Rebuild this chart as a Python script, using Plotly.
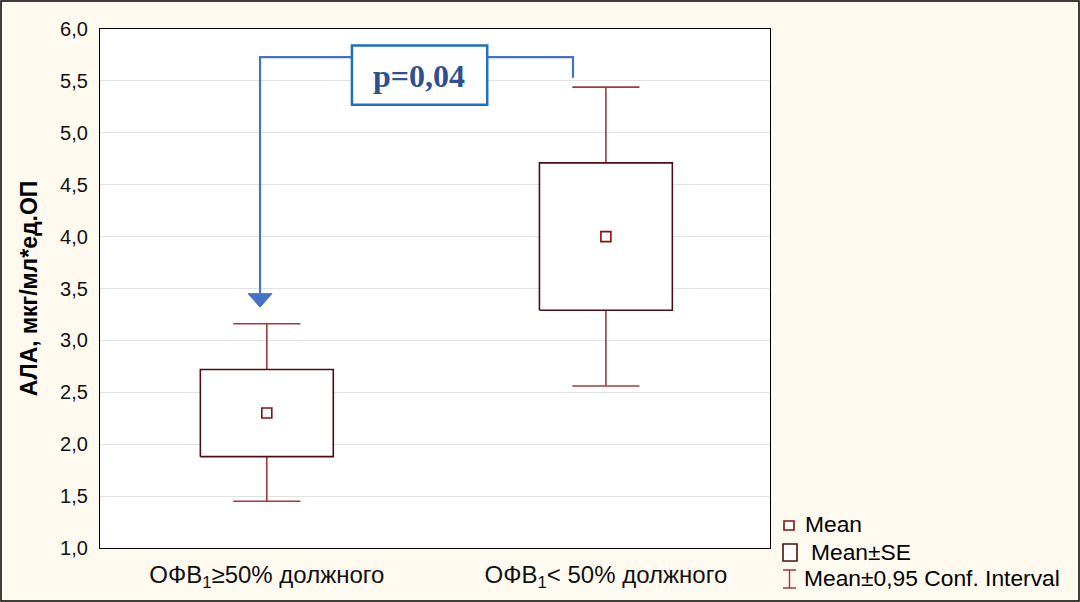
import plotly.graph_objects as go

# Group statistics: АЛА by lung function group
groups = ["ОФВ<sub>1</sub>≥50% должного", "ОФВ<sub>1</sub>< 50% должного"]
means = [2.30, 4.00]
se_low = [1.88, 3.29]
se_high = [2.72, 4.71]
ci_low = [1.45, 2.56]
ci_high = [3.16, 5.44]
y_ticks = [1.0, 1.5, 2.0, 2.5, 3.0, 3.5, 4.0, 4.5, 5.0, 5.5, 6.0]
p_text = "p=0,04"

BOX_COL = "#4d0f12"
WHISK_COL = "#a33a3a"
MEAN_COL = "#8b0f0f"
BLUE = "#4472C4"
SANS = "Liberation Sans, Arial"

box_hw = 0.196
cap_hw = 0.099

fig = go.Figure()

for i, g in enumerate(groups):
    x = i
    # whiskers (95% CI)
    fig.add_trace(go.Scatter(
        x=[x - cap_hw, x + cap_hw, None, x, x, None, x, x, None, x - cap_hw, x + cap_hw],
        y=[ci_high[i], ci_high[i], None, ci_high[i], se_high[i], None, se_low[i], ci_low[i], None, ci_low[i], ci_low[i]],
        mode="lines", line=dict(color=WHISK_COL, width=1.6),
        showlegend=False, hoverinfo="skip"))
    # mean ± SE box
    fig.add_trace(go.Scatter(
        x=[x - box_hw, x + box_hw, x + box_hw, x - box_hw, x - box_hw],
        y=[se_low[i], se_low[i], se_high[i], se_high[i], se_low[i]],
        mode="lines", fill="toself", fillcolor="white",
        line=dict(color=BOX_COL, width=1.6),
        showlegend=False, hoverinfo="skip"))

# mean markers
fig.add_trace(go.Scatter(
    x=list(range(len(groups))), y=means, mode="markers",
    marker=dict(symbol="square", size=10, color="white",
                line=dict(color=MEAN_COL, width=1.6)),
    showlegend=False, hoverinfo="skip"))

shapes = []
annotations = []

# significance bracket with arrow
bx_l, bx_r = -0.020, 0.903
y_top, y_right_end, y_arrow_base, y_arrow_tip = 5.73, 5.53, 3.45, 3.32
shapes.append(dict(type="path", xref="x", yref="y",
                   path=f"M {bx_l} {y_arrow_base} L {bx_l} {y_top} L {bx_r} {y_top} L {bx_r} {y_right_end}",
                   line=dict(color=BLUE, width=2.2)))
aw = 0.035
shapes.append(dict(type="path", xref="x", yref="y",
                   path=f"M {bx_l - aw} {y_arrow_base} L {bx_l + aw} {y_arrow_base} L {bx_l} {y_arrow_tip} Z",
                   fillcolor=BLUE, line=dict(color=BLUE, width=1)))
# p-value box
shapes.append(dict(type="rect", xref="x", yref="y",
                   x0=0.251, x1=0.650, y0=5.27, y1=5.84,
                   fillcolor="white", line=dict(color="#1a72c0", width=2.5)))
annotations.append(dict(x=0.450, y=5.55, xref="x", yref="y", text=f"<b>{p_text}</b>",
                        showarrow=False, font=dict(family="Liberation Serif", size=32, color="#2f4f8f")))

# outer frame around the whole figure
def px_x(p):
    return (p - 100) / 670

def px_y(p):
    return (548 - p) / 519

shapes.append(dict(type="rect", xref="paper", yref="paper",
                   x0=px_x(1), x1=px_x(1079), y0=px_y(601), y1=px_y(1),
                   line=dict(color="black", width=1.5), layer="below"))

# legend
leg_font = dict(family=SANS, size=22.8, color="black")
# Mean
shapes.append(dict(type="rect", xref="paper", yref="paper",
                   x0=px_x(784), x1=px_x(794), y0=px_y(530), y1=px_y(521),
                   fillcolor="white", line=dict(color=MEAN_COL, width=1.6)))
annotations.append(dict(x=px_x(803), y=px_y(524), xref="paper", yref="paper", text="Mean",
                        showarrow=False, xanchor="left", yanchor="middle", font=leg_font))
# Mean±SE
shapes.append(dict(type="rect", xref="paper", yref="paper",
                   x0=px_x(783), x1=px_x(797), y0=px_y(561), y1=px_y(544),
                   fillcolor="white", line=dict(color=BOX_COL, width=1.6)))
annotations.append(dict(x=px_x(809), y=px_y(552), xref="paper", yref="paper", text="Mean±SE",
                        showarrow=False, xanchor="left", yanchor="middle", font=leg_font))
# Mean±0,95 Conf. Interval
shapes.append(dict(type="path", xref="paper", yref="paper",
                   path=(f"M {px_x(783)} {px_y(570)} L {px_x(796)} {px_y(570)} "
                         f"M {px_x(789.5)} {px_y(570)} L {px_x(789.5)} {px_y(588)} "
                         f"M {px_x(783)} {px_y(588)} L {px_x(796)} {px_y(588)}"),
                   line=dict(color=WHISK_COL, width=1.4)))
annotations.append(dict(x=px_x(802), y=px_y(578), xref="paper", yref="paper", text="Mean±0,95 Conf. Interval",
                        showarrow=False, xanchor="left", yanchor="middle", font=leg_font))

fig.update_layout(
    width=1080, height=602,
    margin=dict(l=100, r=310, t=29, b=54),
    paper_bgcolor="#FFFAF0",
    plot_bgcolor="white",
    separators=", ",
    showlegend=False,
    shapes=shapes,
    annotations=annotations,
    font=dict(family=SANS, color="black"),
    xaxis=dict(range=[-0.492, 1.484], tickmode="array", tickvals=[0, 1], ticktext=groups,
               showgrid=False, zeroline=False, showline=True, mirror=True,
               linecolor="black", linewidth=1.2, ticks="", ticklabelstandoff=5,
               automargin=False,
               tickfont=dict(size=24, family=SANS, color="#111")),
    yaxis=dict(range=[1.0, 6.0], tickmode="array", tickvals=y_ticks, tickformat=".1f",
               showgrid=True, gridcolor="#e2e2e2", gridwidth=1.2, zeroline=False,
               showline=True, mirror=True, linecolor="black", linewidth=1.2, ticks="",
               ticklabelstandoff=7, automargin=False,
               tickfont=dict(size=20, family=SANS, color="#111"),
               title=dict(text="<b>АЛА, мкг/мл*ед.ОП</b>", standoff=16,
                          font=dict(size=23, family=SANS, color="black"))),
)

fig.write_html("out.html")
